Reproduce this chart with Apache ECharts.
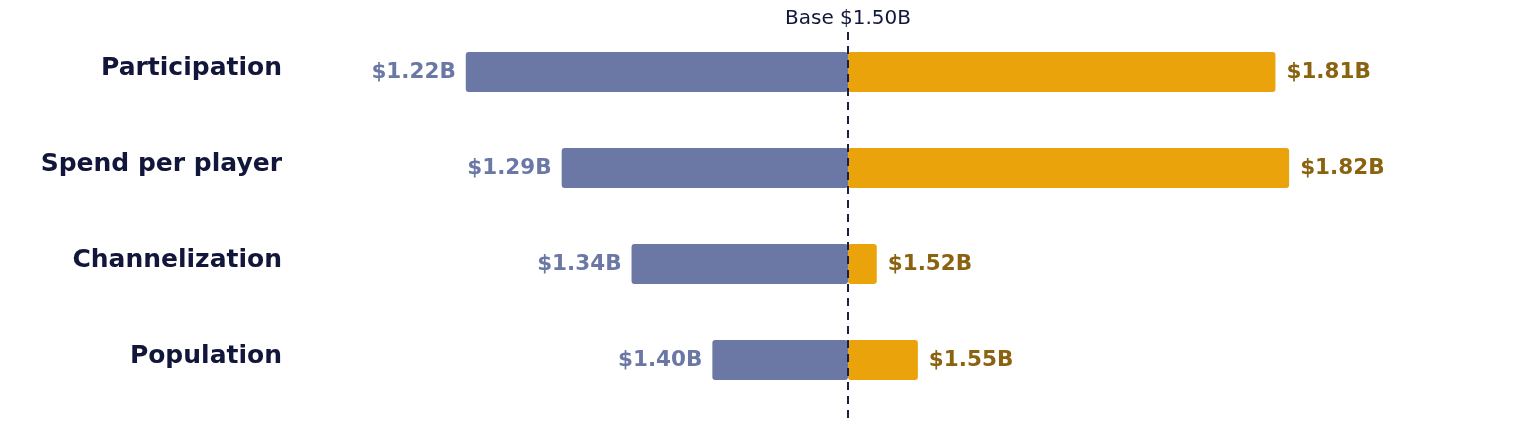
<!DOCTYPE html>
<html>
<head>
<meta charset="utf-8">
<script src="https://cdn.jsdelivr.net/npm/echarts@6/dist/echarts.min.js"></script>
<style>
  html, body { margin: 0; padding: 0; background: #fff; }
  #main { width: 1520px; height: 436px; }
</style>
</head>
<body>
<div id="main"></div>
<script>
// data
var categories = ['Participation', 'Spend per player', 'Channelization', 'Population'];
var lowValues = [1.221, 1.291, 1.342, 1.401];
var highValues = [1.812, 1.822, 1.521, 1.551];
var baseValue = 1.5;

var blue = '#6b78a6';
var orange = '#eba30c';
var orangeText = '#8a6210';
var dark = '#11163a';
var font = 'DejaVu Sans';

function money(v) {
    return '$' + v.toFixed(2) + 'B';
}

var myChart = echarts.init(document.getElementById('main'));

var option = {
    backgroundColor: '#fff',
    animation: false,
    grid: [
        { left: 300, right: 124, top: 24, bottom: 28 },
        // only for the dashed base line
        { left: 300, right: 124, top: 31, bottom: 18 }
    ],
    xAxis: [
        { type: 'value', min: 1.1, max: 1.9, gridIndex: 0, show: false },
        { type: 'value', min: 1.1, max: 1.9, gridIndex: 1, show: false }
    ],
    yAxis: [
        {
            type: 'category',
            gridIndex: 0,
            inverse: true,
            data: categories,
            axisLine: { show: false },
            axisTick: { show: false },
            axisLabel: {
                margin: 18,
                formatter: function (v) { return '{t|' + v + '}'; },
                rich: {
                    t: {
                        color: dark,
                        fontFamily: font,
                        fontWeight: 'bold',
                        fontSize: 25,
                        padding: [0, 0, 7, 0]
                    }
                }
            }
        },
        { type: 'value', gridIndex: 1, show: false, min: 0, max: 1 }
    ],
    series: [
        {
            // invisible part up to the low value
            type: 'bar',
            stack: 'range',
            barWidth: 40,
            silent: true,
            itemStyle: { color: 'transparent' },
            data: lowValues
        },
        {
            type: 'bar',
            stack: 'range',
            barWidth: 40,
            itemStyle: { color: blue, borderRadius: 3 },
            label: {
                show: true,
                position: 'left',
                distance: 10,
                color: blue,
                fontFamily: font,
                fontWeight: 'bold',
                fontSize: 21.5,
                formatter: function (p) { return money(lowValues[p.dataIndex]); }
            },
            data: lowValues.map(function (v) { return baseValue - v; })
        },
        {
            type: 'bar',
            stack: 'range',
            barWidth: 40,
            itemStyle: { color: orange, borderRadius: 3 },
            label: {
                show: true,
                position: 'right',
                distance: 11,
                color: orangeText,
                fontFamily: font,
                fontWeight: 'bold',
                fontSize: 21.5,
                formatter: function (p) { return money(highValues[p.dataIndex]); }
            },
            data: highValues.map(function (v) { return v - baseValue; })
        },
        {
            type: 'line',
            xAxisIndex: 1,
            yAxisIndex: 1,
            data: [],
            z: 5,
            markLine: {
                silent: true,
                symbol: 'none',
                lineStyle: { color: '#1a1f45', type: [8, 6], width: 2 },
                label: {
                    show: true,
                    position: 'end',
                    distance: 2,
                    formatter: 'Base ' + money(baseValue),
                    color: dark,
                    fontFamily: font,
                    fontSize: 20
                },
                data: [{ xAxis: baseValue }]
            }
        }
    ]
};

myChart.setOption(option);
</script>
</body>
</html>
